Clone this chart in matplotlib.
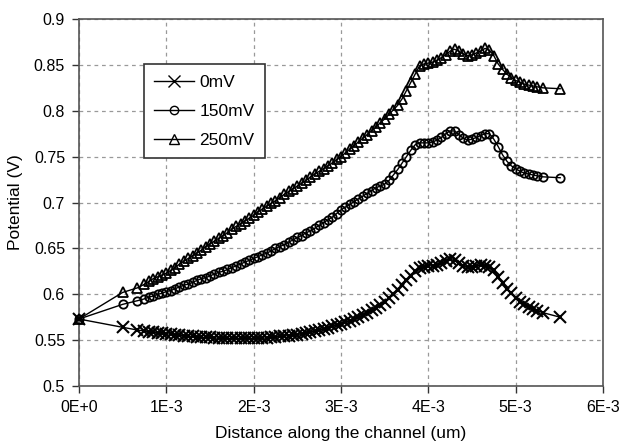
import matplotlib
matplotlib.use("Agg")
import matplotlib.pyplot as plt

plt.rcParams['font.family'] = ['Liberation Sans', 'DejaVu Sans']

# distance along the channel (in units of 1E-3)
x_k = [0.0, 0.5, 0.67,
       0.75, 0.80, 0.85, 0.90, 0.95, 1.00, 1.05, 1.10, 1.15, 1.20, 1.25, 1.30, 1.35, 1.40, 1.45,
       1.50, 1.55, 1.60, 1.65, 1.70, 1.75, 1.80, 1.85, 1.90, 1.95, 2.00, 2.05, 2.10, 2.15, 2.20,
       2.25, 2.30, 2.35, 2.40, 2.45, 2.50, 2.55, 2.60, 2.65, 2.70, 2.75, 2.80, 2.85, 2.90, 2.95,
       3.00, 3.05, 3.10, 3.15, 3.20, 3.25, 3.30, 3.35, 3.40, 3.45, 3.50, 3.55, 3.60, 3.65, 3.70,
       3.75, 3.80, 3.85, 3.90, 3.95, 4.00, 4.05, 4.10, 4.15, 4.20, 4.25, 4.30, 4.35, 4.40, 4.45,
       4.50, 4.55, 4.60, 4.65, 4.70, 4.75, 4.80, 4.85, 4.90, 4.95, 5.00, 5.05, 5.10, 5.15, 5.20,
       5.25, 5.31, 5.51]

v_0mV = [0.573, 0.564, 0.561,
         0.560, 0.559, 0.5585, 0.558, 0.5575, 0.557, 0.5565, 0.556, 0.5555, 0.555, 0.5545, 0.554, 0.5535, 0.553, 0.553,
         0.553, 0.5525, 0.552, 0.552, 0.552, 0.552, 0.552, 0.552, 0.552, 0.552, 0.552, 0.552, 0.552, 0.5525, 0.553,
         0.5535, 0.554, 0.5545, 0.555, 0.5555, 0.556, 0.557, 0.558, 0.559, 0.560, 0.561, 0.562, 0.5635, 0.565, 0.5665,
         0.568, 0.5695, 0.571, 0.573, 0.575, 0.5775, 0.580, 0.5825, 0.585, 0.5885, 0.592, 0.596, 0.600, 0.605, 0.610,
         0.615, 0.620, 0.625, 0.629, 0.630, 0.631, 0.631, 0.632, 0.634, 0.636, 0.638, 0.637, 0.634, 0.631, 0.630,
         0.630, 0.631, 0.632, 0.631, 0.630, 0.626, 0.619, 0.612, 0.606, 0.601, 0.596, 0.592, 0.589, 0.586, 0.584,
         0.582, 0.580, 0.575]

v_150mV = [0.573, 0.589, 0.593,
           0.595, 0.597, 0.598, 0.600, 0.601, 0.603, 0.604, 0.606, 0.608, 0.610, 0.611, 0.613, 0.615, 0.617, 0.618,
           0.620, 0.622, 0.624, 0.625, 0.627, 0.629, 0.631, 0.633, 0.635, 0.637, 0.639, 0.641, 0.643, 0.645, 0.647,
           0.650, 0.652, 0.654, 0.657, 0.659, 0.662, 0.664, 0.667, 0.669, 0.672, 0.675, 0.678, 0.681, 0.684, 0.688,
           0.692, 0.695, 0.698, 0.701, 0.704, 0.707, 0.710, 0.713, 0.716, 0.718, 0.720, 0.724, 0.730, 0.736, 0.743,
           0.750, 0.757, 0.763, 0.765, 0.765, 0.765, 0.766, 0.768, 0.771, 0.775, 0.778, 0.778, 0.774, 0.770, 0.768,
           0.769, 0.771, 0.773, 0.775, 0.775, 0.769, 0.761, 0.752, 0.745, 0.740, 0.737, 0.734, 0.732, 0.731, 0.730,
           0.729, 0.728, 0.727]

v_250mV = [0.573, 0.602, 0.607,
           0.611, 0.614, 0.617, 0.619, 0.621, 0.623, 0.626, 0.629, 0.633, 0.636, 0.639, 0.642, 0.645, 0.648, 0.652,
           0.655, 0.658, 0.661, 0.664, 0.667, 0.671, 0.674, 0.677, 0.680, 0.683, 0.686, 0.690, 0.693, 0.696, 0.699,
           0.702, 0.705, 0.709, 0.712, 0.715, 0.718, 0.721, 0.724, 0.728, 0.731, 0.734, 0.737, 0.740, 0.743, 0.747,
           0.750, 0.754, 0.758, 0.762, 0.766, 0.770, 0.774, 0.778, 0.782, 0.787, 0.791, 0.796, 0.801, 0.806, 0.813,
           0.822, 0.831, 0.840, 0.849, 0.851, 0.852, 0.853, 0.855, 0.858, 0.861, 0.865, 0.867, 0.865, 0.862, 0.860,
           0.861, 0.863, 0.865, 0.868, 0.866, 0.860, 0.851, 0.845, 0.840, 0.836, 0.833, 0.831, 0.829, 0.828, 0.827,
           0.826, 0.825, 0.824]

series_labels = ['0mV', '150mV', '250mV']
x_ticks = [0, 1, 2, 3, 4, 5, 6]
x_tick_labels = ['0E+0', '1E-3', '2E-3', '3E-3', '4E-3', '5E-3', '6E-3']
y_ticks = [0.5, 0.55, 0.6, 0.65, 0.7, 0.75, 0.8, 0.85, 0.9]
y_tick_labels = ['0.5', '0.55', '0.6', '0.65', '0.7', '0.75', '0.8', '0.85', '0.9']

fig = plt.figure(figsize=(6.19, 4.46), dpi=100)
ax = fig.add_axes([0.1276, 0.1345, 0.8465, 0.8229])

ax.plot(x_k, v_0mV, color='black', lw=1.0, marker='x', ms=9, mew=1.5,
        label=series_labels[0], clip_on=False, zorder=3)
ax.plot(x_k, v_150mV, color='black', lw=1.0, marker='o', ms=6, mew=1.3,
        mfc='none', label=series_labels[1], clip_on=False, zorder=3)
ax.plot(x_k, v_250mV, color='black', lw=1.0, marker='^', ms=7, mew=1.3,
        mfc='none', label=series_labels[2], clip_on=False, zorder=3)

ax.set_xlim(0, 6)
ax.set_ylim(0.5, 0.9)
ax.set_xticks(x_ticks)
ax.set_xticklabels(x_tick_labels)
ax.set_yticks(y_ticks)
ax.set_yticklabels(y_tick_labels)
ax.tick_params(direction='out', length=5, width=1.0, colors='#333333',
               labelsize=11.5, labelcolor='black', pad=5)

ax.grid(True, color='#999999', linestyle=(0, (3, 3)), linewidth=0.9)
ax.set_axisbelow(True)
for s in ax.spines.values():
    s.set_color('#555555')
    s.set_linewidth(1.2)

ax.set_xlabel('Distance along the channel (um)', fontsize=12.5, labelpad=8)
ax.set_ylabel('Potential (V)', fontsize=12.5, labelpad=8)

leg = ax.legend(loc='upper left', bbox_to_anchor=(0.124, 0.877), fontsize=12.5,
                frameon=True, fancybox=False, framealpha=1, edgecolor='#333333',
                numpoints=1, handlelength=2.3, handletextpad=0.3,
                borderpad=0.6, labelspacing=0.8, borderaxespad=0)
leg.get_frame().set_linewidth(1.2)
for h in leg.legend_handles:
    h.set_markeredgewidth(1.0)

fig.savefig('out.png', dpi=100)
